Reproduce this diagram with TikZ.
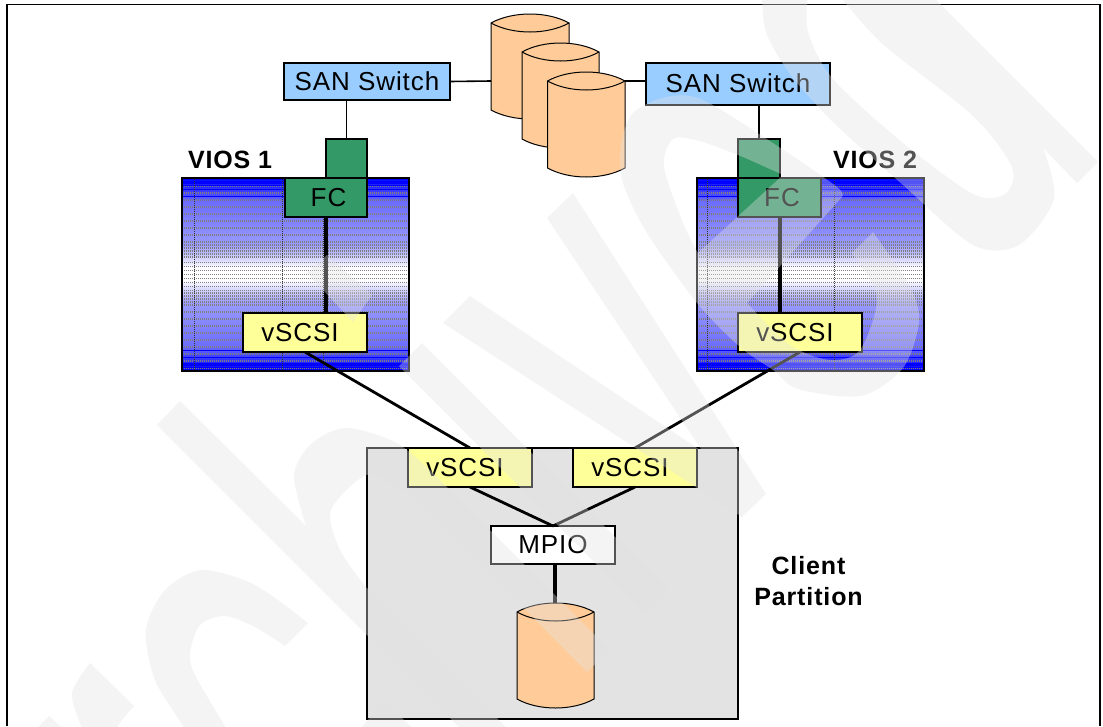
\documentclass[tikz,border=0pt]{standalone}
\usepackage{fontspec}
\setmainfont{Liberation Sans}
\newfontfamily\lab[LetterSpace=3.5]{Liberation Sans}
\definecolor{swblue}{HTML}{99CCFF}
\definecolor{fcgreen}{HTML}{339966}
\definecolor{vyellow}{HTML}{FFFF99}
\definecolor{drumor}{HTML}{FFCC99}
\definecolor{clientgray}{HTML}{E3E3E3}
\definecolor{wmgray}{gray}{0.885}
\tikzset{
  x=1pt,y=-1pt,
  box/.style={draw=black,line width=1.6pt,inner sep=0pt,outer sep=0pt,font=\lab\fontsize{26}{30}\selectfont,text=black},
  swbox/.style={box,fill=swblue},
  greenbox/.style={box,fill=fcgreen},
  vsbox/.style={box,fill=vyellow,minimum width=124pt,minimum height=39pt},
  mpiobox/.style={box,fill=white,minimum width=124pt,minimum height=38pt},
  heading/.style={inner sep=0pt,outer sep=0pt,align=center,font=\lab\bfseries\fontsize{25}{31}\selectfont,text=black},
  thin link/.style={draw=black,line width=1.6pt},
  thick link/.style={draw=black,line width=2.8pt},
  post link/.style={draw=black,line width=3.2pt},
  drum/.style={draw=black,line width=1pt,fill=drumor},
  wm/.style={fill=wmgray,fill opacity=0.37},
}
% x0 x1 ycorner-top ycorner-bottom
\newcommand{\drumshape}[4]{%
  \path[drum] (#1,#3) -- (#1,#4) .. controls ({#1+0.28*(#2-#1)},{#4+12}) and ({#1+0.72*(#2-#1)},{#4+12}) .. (#2,#4)
     -- (#2,#3) .. controls ({#1+0.72*(#2-#1)},{#3-12}) and ({#1+0.28*(#2-#1)},{#3-12}) .. (#1,#3) -- cycle;
  \draw[black,line width=1pt] (#1,#3) .. controls ({#1+0.28*(#2-#1)},{#3+12}) and ({#1+0.72*(#2-#1)},{#3+12}) .. (#2,#3);
}
% x0 x1 : dithered gradient from y=178 to y=371
\newcommand{\viosfill}[2]{%
  \foreach \k in {0,...,192}{%
    \pgfmathsetmacro{\t}{abs(\k+0.5-96.5)/96.5}%
    \pgfmathtruncatemacro{\p}{\t<0.08?(\t*30):(\t<0.3?(3+(\t-0.08)*170):(\t<0.75?(40+(\t-0.3)*40):(58+(\t-0.75)*168)))}%
    \fill[blue!\p!white] (#1,178+\k) rectangle (#2,179.3+\k);
    \pgfmathtruncatemacro{\dith}{(mod(\k,7)<2 && \t>0.34) || (\t<=0.34 && \t>0.16 && mod(\k,3)<2) || (\t<=0.16 && mod(\k,4)==0) ? 1 : 0}%
    \pgfmathtruncatemacro{\blu}{(\t>0.78 && mod(\k,7)==4) || (\t>0.92 && mod(\k,2)==1) ? 1 : 0}%
    \ifnum\dith=1 \draw[line width=1pt,black!50,dash pattern=on 1pt off 1pt] (#1,178.5+\k) -- (#2,178.5+\k);\fi
    \ifnum\blu=1 \draw[line width=1pt,blue] (#1,178.5+\k) -- (#2,178.5+\k);\fi
  }%
}
\begin{document}
\begin{tikzpicture}
\path[use as bounding box] (0,0) rectangle (1103,726);
\fill[white] (0,0) rectangle (1103,726);
% page frame
\draw[black,line width=1.5pt] (7,726) -- (7,4.5) -- (1100,4.5) -- (1100,726);

% VIOS textured panels
\viosfill{182}{409}
\viosfill{697}{924}
\foreach \vx in {194,282,323,707,834}
  \draw[black!80,line width=1pt,dash pattern=on 1pt off 1pt] (\vx,179) -- (\vx,370);
\node[draw=black,line width=1.8pt,minimum width=227pt,minimum height=193pt,inner sep=0pt,outer sep=0pt] (vios1) at (295.5,274.5) {};
\node[draw=black,line width=1.8pt,minimum width=227pt,minimum height=193pt,inner sep=0pt,outer sep=0pt] (vios2) at (810.5,274.5) {};
\node[heading,anchor=west] (vios1lab) at (188,160) {VIOS 1};
\node[heading,anchor=west] (vios2lab) at (833,160) {VIOS 2};

% Storage and switches
\coordinate (drumA) at (491,81);
\coordinate (drumC) at (625,81);
\drumshape{491}{569}{23}{110}
\drumshape{522}{599}{52}{139}
\drumshape{547.5}{625}{81}{168}
\node[swbox,minimum width=166pt,minimum height=37pt] (sw1) at (367,81.5) {SAN Switch};
\node[swbox,minimum width=184pt,minimum height=42pt] (sw2) at (738,84) {\raisebox{1.5pt}{SAN Switch}};
\draw[thin link] (sw1.east) -- (drumA);
\draw[thin link] (drumC) -- (sw2.west |- drumC);

% FC adapters
\node[greenbox,minimum width=41pt,minimum height=39pt] (up1) at (346.5,158.5) {};
\node[greenbox,minimum width=82pt,minimum height=39pt] (fc1) at (326,197.5) {\hspace*{5pt}FC};
\node[greenbox,minimum width=42pt,minimum height=39pt] (up2) at (759,158.5) {};
\node[greenbox,minimum width=83pt,minimum height=39pt] (fc2) at (779.5,197.5) {\hspace*{5pt}FC};
\draw[thin link] (up1.north |- sw1.south) -- (up1.north);
\draw[thin link] (up2.north |- sw2.south) -- (up2.north);

% vSCSI server adapters
\node[vsbox] (vs1) at (305,332.5) {vSCSI\hspace*{10pt}};
\node[vsbox] (vs2) at (800,332.5) {vSCSI\hspace*{10pt}};
\draw[post link] (fc1.south -| up1.west) -- (vs1.north -| up1.west);
\draw[post link] (fc2.south -| up2.east) -- (vs2.north -| up2.east);

% Client partition
\node[draw=black,line width=1.8pt,fill=clientgray,minimum width=371pt,minimum height=271pt,inner sep=0pt,outer sep=0pt] (client) at (552.5,583.5) {};
\node[heading] (clientlab) at (808.5,581) {Client\\Partition};
\node[vsbox] (cvs1) at (470,467.5) {vSCSI\hspace*{10pt}};
\node[vsbox] (cvs2) at (635,467.5) {vSCSI\hspace*{10pt}};
\node[mpiobox] (mpio) at (553,545) {MPIO};
\coordinate (drumD) at (555,603);
\drumshape{517}{594}{612}{699}
\draw[thick link] (vs1.south) -- (cvs1.north);
\draw[thick link] (vs2.south) -- (cvs2.north);
\draw[thick link] (cvs1.south) -- (mpio.north);
\draw[thick link] (cvs2.south) -- (mpio.north);
\draw[post link] (drumD |- mpio.south) -- (drumD);

% Background watermark, over everything
% d
\fill[wm] (931,-5) -- (1098,162) -- (1077,183) -- (1043,148)
  -- plot[smooth] coordinates {(1043,148) (1054,199) (1019,245) (973,245) (903,185) (833,122) (790,74) (766,32) (762,-5)}
  -- (808,-5) -- plot[smooth] coordinates {(808,-5) (808,32) (833,79) (903,143) (973,194) (1005,194) (1012,167) (973,116) (885,46) (847,5) (840,-5)} -- cycle;
% e
\fill[wm,even odd rule] plot[smooth] coordinates {(873,232) (910,287) (919,322) (903,368) (861,396) (798,389) (773,370) (740,347) (697,303) (647,233) (623,183) (621,145) (633,113) (666,97) (703,100) (779,147) (837,187) (842,197)}
  -- (747,303) -- plot[smooth] coordinates {(747,303) (790,345) (830,360) (860,350) (877,297) (852,253)} -- cycle
  plot[smooth] coordinates {(783,175) (738,155) (699,141) (673,139) (664,167) (683,223) (698,253)} -- cycle;
% v
\fill[wm] (573,193) -- (766,494) -- (742,517) -- (443,323) -- (470,296) -- (703,452) -- (547,218) -- cycle;
% i
\fill[wm] (327,255) -- (372,295) -- (353,322) -- (307,273) -- cycle;
\fill[wm] (422,343) -- (668,590) -- (645,613) -- (399,366) -- cycle;
% h
\fill[wm] (157,425) -- (180,401) -- (306,526)
  -- plot[smooth] coordinates {(306,526) (294,476) (310,445) (345,428) (395,442) (432,472)}
  -- (610,650) -- (587,672) -- (417,500)
  -- plot[smooth] coordinates {(417,500) (395,485) (366,475) (331,510) (340,550) (366,587)}
  -- (519,740) -- (496,764) -- cycle;
% c
\fill[wm] plot[smooth] coordinates {(308,623) (255,585) (202,570) (165,590) (146,630) (155,680) (183,726) (195,750)}
  -- (240,750) -- plot[smooth] coordinates {(240,750) (225,726) (195,675) (190,653) (200,625) (225,616) (255,627) (285,646)} -- cycle;
% r
\fill[wm] plot[smooth] coordinates {(90,663) (72,693) (81,726) (90,750)} -- plot[smooth] coordinates {(112,750) (118,726) (134,706)} -- cycle;
\fill[wm] (49,716) -- (30,735) -- (70,735) -- cycle;
\fill[wm] (384,701) -- (355,735) -- (420,735) -- cycle;
\end{tikzpicture}
\end{document}
